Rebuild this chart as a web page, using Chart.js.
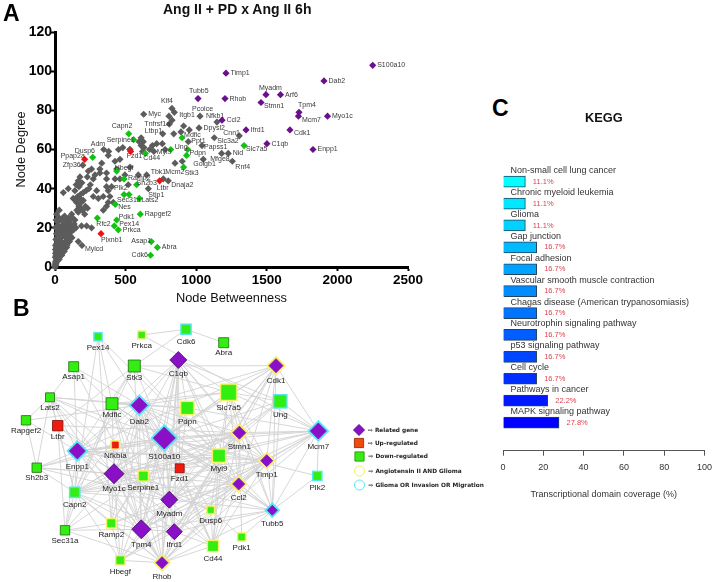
<!DOCTYPE html>
<html>
<head>
<meta charset="utf-8">
<title>Ang II + PD x Ang II 6h</title>
<script src="https://cdn.jsdelivr.net/npm/chart.js@4"></script>
<style>
  html, body { margin: 0; padding: 0; background: #fff; }
  #page { position: relative; width: 715px; height: 582px; overflow: hidden; font-family: "Liberation Sans", Arial, sans-serif; }
  canvas { position: absolute; }
  .letter { position: absolute; font-size: 23px; font-weight: bold; color: #000; line-height: 1; }
  .title { position: absolute; font-size: 14px; font-weight: bold; color: #111; line-height: 1; white-space: nowrap; }
</style>
</head>
<body>
<div id="page">
  <canvas id="scatter" style="left:0;top:0" width="440" height="306"></canvas>
  <canvas id="network" style="left:0;top:306px" width="500" height="276"></canvas>
  <canvas id="kegg" style="left:490px;top:150px" width="228" height="350"></canvas>
  <div class="letter" style="left:3px;top:2px">A</div>
  <div class="letter" style="left:13px;top:297px">B</div>
  <div class="letter" style="left:492px;top:97px">C</div>
  <div class="title" style="left:163px;top:2px">Ang II + PD x Ang II 6h</div>
  <div class="title" style="left:585px;top:112px;font-size:12.8px">KEGG</div>
</div>

<script>
// Panel A - node betweenness vs node degree
const relatedNames = ["S100a10","Dab2","Timp1","Myadm","Arf6","Rhob","Tubb5","Stmn1","Tpm4","Mcm7","Myo1c","Ccl2","Ifrd1","Cdk1","C1qb","Enpp1"];
const relatedX = [2250,1905,1211,1494,1597,1204,1013,1459,1728,1724,1930,1183,1353,1664,1501,1827];
const relatedY = [103,95,99,88,88,86,86,84,79,77,77,75,70,70,63,60];

const downNames = ["Capn2","Serpine1","Mdfic","Myl9","Ung","Pdpn","Slc7a5","Cd44","Dusp6","Stk3","Hbegf","Ramp2","Sh2b3","Plk2","Sec31a","Lats2","Nes","Rapgef2","Pdk1","Pex14","Prkca","Rfc2","Asap1","Abra","Cdk6"];
const downX = [522,557,900,820,940,932,1339,640,267,911,437,489,578,489,524,597,427,604,437,420,448,300,682,725,677];
const downY = [68,65,66,60,60,57,62,58,56,51,49,45,42,37,37,35,32,27,24,21,19,25,13,10,6];

const upNames = ["Fzd1","Ppap2a","Ltbr","Plxnb1"];
const upX = [536,210,741,326];
const upY = [59,55,44,17];

const namedGrayNames = ["Klf4","Itgb1","Myc","Tnfrsf1a","Pcolce","Nfkb1","Dpysl2","Ltbp1","Cnn1","Slc3a2","Papss1","Ppt1","Adm","Zfp36","Mylcd","Tbk1","Mcm2","Dnaja2","Golgb1","Mfge8","Nid","Rnf4","Stip1"];
const namedGrayX = [828,845,628,810,1027,1147,1020,763,1305,1128,1041,944,345,197,191,649,767,802,901,1050,1227,1256,661];
const namedGrayY = [81,79,78,73,77,74,71,68,67,66,62,64,60,52,11,47,45,44,54,55,58,54,40];

const grayX = [807,829,911,951,841,892,610,625,595,610,630,690,720,760,780,700,670,620,530,450,380,
  377,331,425,460,480,531,531,437,318,236,259,283,229,177,165,59,94,141,129,177,153,271,318,365,365,401,365,377,295,271,307,342,389,365,342,377,413,425,460,519,590,495,850,1180,
  11,30,70,118,165,141,94,188,224,259,118,70,23,165,82,47,
  8,18,30,42,55,68,82,96,110,125,5,15,26,38,50,62,76,90,104,118,136,10,22,34,46,58,72,86,100,114,130,148,6,16,28,40,52,64,78,92,106,120,4,12,24,36,48,60,74,88,102,3,10,20,32,44,56,70,84,4,9,18,30,42,54,66,2,7,14,24,36,48,5,11,20,30,3,8,15,2,6,1,170,185,200,215,155,175,195,210,230,145,160,180,200,220,240,250,150,170,190];
const grayY = [77,75,72,70,68,69,66,64,64,62,61,62,63,63,60,59,60,59,60,60,59,
  57,53,54,55,61,60,51,50,50,49,50,47,46,46,44,38,40,39,35,35,33,45,48,48,45,41,41,39,39,36,35,36,36,31,29,33,33,45,45,42,47,47,53,58,
  27,29,25,27,28,24,22,21,21,20,19,17,16,13,10,7,
  24,23,25,24,25,26,24,25,24,25,20,21,21,20,21,22,22,21,22,21,22,17,18,18,18,19,19,18,19,18,19,20,14,15,15,15,16,16,15,16,16,15,11,12,12,13,13,12,13,13,13,9,10,10,10,10,10,11,11,7,8,8,8,8,8,8,5,6,6,6,6,6,3,4,4,4,2,2,3,1,1,0,31,33,34,31,29,30,29,27,30,34,36,37,38,39,40,42,42,41,43];

// Panel B - gene network, node positions come from the layout of the original figure
const nodeNames = ["Pex14","Prkca","Cdk6","Abra","Asap1","Stk3","C1qb","Cdk1","Lats2","Mdfic","Dab2","Slc7a5","Pdpn","Ung","Rapgef2","Ltbr","S100a10","Stmn1","Mcm7","Enpp1","Nfkbia","Myl9","Fzd1","Timp1","Sh2b3","Serpine1","Myo1c","Plk2","Ccl2","Capn2","Myadm","Dusp6","Tubb5","Sec31a","Ramp2","Tpm4","Ifrd1","Pdk1","Cd44","Hbegf","Rhob"];
const nodeX = [98,141.7,186,223.7,73.7,134.3,178.3,276,50,112,139.3,228.7,187.3,280.3,26,57.7,164.3,239.3,318.3,77.3,115.3,219,179.7,266.7,36.7,143.3,114,317.3,238.7,74.7,169.3,210.7,272.3,65,111.3,141.3,174.3,241.7,213,120.3,162];
const nodeY = [336.7,335,329.3,342.7,366.7,366,360,365.7,397.3,403.7,405.3,392.3,408,401.3,420.3,425.7,438,432.7,431,451,445,455.7,468.3,460.7,467.7,476,473.7,476,484,492.3,499.7,510,510.3,530.3,523.3,529.3,531.7,537,546,560.3,562.7];
const nodeKind = ["down","down","down","down","down","down","related","related","down","down","related","down","down","down","down","up","related","related","related","related","up","down","up","related","down","down","related","down","related","down","related","down","related","down","down","related","related","down","down","down","related"];
const nodeRing = ["c","y","c","","","","","y","","","c","y","y","c","","","c","y","c","c","y","y","","y","","y","","c","y","c","","y","c","","y","","","y","y","y","y"];
const nodeSize = [3,2.8,4,5,5,6,8.5,7,4.5,6,8,7,5.5,5.5,4.7,5.2,11,6.5,8,8,3,5.5,4.5,6,4.7,4,10,3.5,6,4,8.5,2.7,5,4.7,3.6,9.5,8,3,4.5,3.5,6];

const edgeLists = {
  S100a10: ["Pex14","Stk3","C1qb","Cdk1","Lats2","Mdfic","Dab2","Slc7a5","Pdpn","Ung","Stmn1","Mcm7","Enpp1","Nfkbia","Myl9","Fzd1","Timp1","Sh2b3","Serpine1","Myo1c","Plk2","Ccl2","Capn2","Myadm","Dusp6","Tubb5","Ramp2","Tpm4","Ifrd1","Cd44","Hbegf","Rhob"],
  Dab2: ["Asap1","C1qb","Cdk1","Lats2","Slc7a5","Stmn1","Enpp1","Myl9","Fzd1","Timp1","Myo1c","Ccl2","Capn2","Myadm","Tubb5","Ramp2","Tpm4","Ifrd1","Cd44","Hbegf","Rhob","Rapgef2"],
  Myo1c: ["Lats2","Ltbr","Mdfic","C1qb","Slc7a5","Stmn1","Mcm7","Myl9","Timp1","Ccl2","Capn2","Sh2b3","Myadm","Tubb5","Sec31a","Tpm4","Ifrd1","Cd44","Hbegf","Rhob","Dusp6"],
  Mcm7: ["Cdk1","Slc7a5","Ung","Stmn1","Timp1","Myl9","Plk2","Tubb5","Ccl2","Myadm","Tpm4","Rhob","Enpp1","Pdpn"],
  C1qb: ["Pdpn","Slc7a5","Stmn1","Enpp1","Myl9","Fzd1","Timp1","Ccl2","Myadm","Tpm4","Ifrd1","Rhob","Serpine1","Ung"],
  Cdk1: ["Stk3","Stmn1","Timp1","Tubb5","Enpp1","Myl9","Tpm4","Ccl2","Myadm","Ifrd1","Capn2"],
  Tpm4: ["Enpp1","Stmn1","Myl9","Timp1","Ccl2","Myadm","Tubb5","Capn2","Ramp2","Ifrd1","Hbegf","Rhob","Sec31a","Mdfic","Pdpn","Nfkbia","Stk3"],
  Myadm: ["Enpp1","Stmn1","Myl9","Timp1","Ccl2","Capn2","Tubb5","Ifrd1","Cd44","Hbegf","Rhob","Ramp2","Sh2b3","Fzd1","Ltbr"],
  Ifrd1: ["Enpp1","Stmn1","Myl9","Timp1","Ccl2","Capn2","Tubb5","Hbegf","Rhob","Dusp6","Cd44"],
  Tubb5: ["Stmn1","Myl9","Timp1","Slc7a5","Ung","Ccl2","Pdk1","Rhob","Plk2","Mdfic"],
  Rhob: ["Stmn1","Myl9","Timp1","Ccl2","Enpp1","Capn2","Ramp2","Hbegf","Cd44","Dusp6","Sec31a","Mdfic","Lats2"],
  Enpp1: ["Asap1","Stmn1","Myl9","Timp1","Ccl2","Stk3","Capn2","Sh2b3","Sec31a","Lats2","Rapgef2"],
  Stmn1: ["Myl9","Timp1","Ccl2","Slc7a5","Ung","Capn2","Ltbr","Serpine1","Cd44","Pdk1"],
  Timp1: ["Myl9","Ccl2","Slc7a5","Pdpn","Capn2","Cd44","Dusp6","Hbegf"],
  Ccl2: ["Myl9","Slc7a5","Capn2","Cd44","Hbegf","Ramp2","Mdfic","Lats2"],
  Slc7a5: ["Mdfic","Stk3","Ung","Myl9","Cd44"],
  Lats2: ["Asap1","Rapgef2","Ltbr","Sh2b3","Capn2","Serpine1","Pdpn"],
  Pex14: ["Capn2","Ramp2","Myl9","Mdfic"],
  Prkca: ["Cdk6","Mcm7"],
  Cdk6: ["Abra","Stk3"],
  Asap1: ["Fzd1","Nfkbia"],
  Stk3: ["Ltbr","Capn2","Mdfic","Myl9"],
  Mdfic: ["Capn2","Sec31a","Pdpn","Serpine1"],
  Capn2: ["Sec31a","Serpine1","Ltbr","Sh2b3","Ramp2","Hbegf"],
  Rapgef2: ["Sh2b3"],
  Sh2b3: ["Nfkbia","Serpine1"],
  Sec31a: ["Serpine1","Ramp2","Ltbr"],
  Ramp2: ["Serpine1","Hbegf","Nfkbia"],
  Myl9: ["Pdpn","Fzd1","Serpine1","Cd44","Dusp6","Ung"],
  Dusp6: ["Cd44","Pdk1","Serpine1"],
  Fzd1: ["Pdpn","Ung","Cd44"]
};

const legendLabels = ["Related gene","Up-regulated","Down-regulated","Angiotensin II AND Glioma","Glioma OR Invasion OR Migration"];

// Panel C - KEGG coverage
const pathways = ["Non-small cell lung cancer","Chronic myeloid leukemia","Glioma","Gap junction","Focal adhesion","Vascular smooth muscle contraction","Chagas disease (American trypanosomiasis)","Neurotrophin signaling pathway","p53 signaling pathway","Cell cycle","Pathways in cancer","MAPK signaling pathway"];
const coverage = [11.1,11.1,11.1,16.7,16.7,16.7,16.7,16.7,16.7,16.7,22.2,27.8];
const pathwayColors = ["#00ffff","#00e8ff","#00d1ff","#00baff","#00a2ff","#008bff","#0074ff","#005dff","#0046ff","#002eff","#0017ff","#0000ff"];

// label offsets from the marker in panel A (default is to the right)
const labelSpots = {
  Klf4:[-11,-7], Itgb1:[5,3], Tnfrsf1a:[-25,0], Pcolce:[-8,-7], Nfkb1:[-11,-6], Ltbp1:[-18,-3], Cnn1:[-16,-3], Slc3a2:[3,3],
  Papss1:[2,1], Ppt1:[3,-1], Adm:[-13,-5], Zfp36:[-20,0], Mylcd:[3,4], Tbk1:[4,-3], Mcm2:[2,-7], Dnaja2:[3,4], Golgb1:[11,3], Mfge8:[7,0],
  Rnf4:[3,6], Stip1:[0,6], Ppap2a:[-24,-3], Dusp6:[-18,-6], Fzd1:[-4,5], Cd44:[-2,5], Myl9:[-14,3], Ung:[-13,-2], Mdfic:[2,-3], Pdpn:[3,-2],
  Capn2:[-17,-8], Serpine1:[-27,0], Stk3:[1,6], Slc7a5:[2,3], Hbegf:[-2,-3], Ltbr:[-3,7], Ramp2:[4,-1], Sh2b3:[0,-2], Plk2:[-10,-6], Sec31a:[-12,6],
  Lats2:[2,2], Nes:[3,3], Pdk1:[2,-3], Pex14:[5,-2], Rfc2:[-1,6], Plxnb1:[0,6], Asap1:[-20,0], Cdk6:[-19,0],
  Tubb5:[-9,-8], Myadm:[-7,-7], Stmn1:[3,4], Tpm4:[-1,-7], Mcm7:[3.5,4], Cdk1:[4,3]
};

const toPoints = (xs, ys) => xs.map((x, i) => ({ x: x, y: ys[i] }));

const panelLabels = {
  id: "panelLabels",
  afterDatasetsDraw(chart) {
    const ctx = chart.ctx;
    ctx.save();
    ctx.font = '7px "Liberation Sans", Arial, sans-serif';
    ctx.fillStyle = "#3a3a3a";
    ctx.textBaseline = "middle";
    chart.data.datasets.forEach((ds) => {
      if (!ds.names) return;
      ds.data.forEach((p, i) => {
        const name = ds.names[i];
        const spot = labelSpots[name] || [4.5, 0];
        ctx.fillText(name, chart.scales.x.getPixelForValue(p.x) + spot[0], chart.scales.y.getPixelForValue(p.y) + spot[1]);
      });
    });
    ctx.restore();
  }
};

function scatterSet(xs, ys, names, color) {
  return { data: toPoints(xs, ys), names: names, backgroundColor: color, borderColor: color, pointStyle: "rectRot", pointRadius: 3.6, pointBorderWidth: 0, clip: false };
}

new Chart(document.getElementById("scatter"), {
  type: "scatter",
  plugins: [panelLabels],
  data: {
    datasets: [
      scatterSet(relatedX, relatedY, relatedNames, "#6a0f8e"),
      scatterSet(downX, downY, downNames, "#12c212"),
      scatterSet(upX, upY, upNames, "#ee1111"),
      scatterSet(namedGrayX, namedGrayY, namedGrayNames, "#5c5c5c"),
      scatterSet(grayX, grayY, null, "#5c5c5c")
    ]
  },
  options: {
    responsive: false,
    animation: false,
    events: [],
    layout: { autoPadding: false, padding: { top: 32, right: 32, left: 0, bottom: 0 } },
    plugins: { legend: { display: false }, tooltip: { enabled: false } },
    scales: {
      x: {
        min: 0, max: 2500,
        afterFit(s) { s.height = 39; },
        border: { color: "#000", width: 3 },
        grid: { drawOnChartArea: false, tickColor: "#000", tickWidth: 2, tickLength: 4 },
        ticks: { stepSize: 500, maxRotation: 0, color: "#000", padding: 1, format: { useGrouping: false }, font: { size: 13.5, weight: "bold", family: '"Liberation Sans", Arial' } },
        title: { display: true, text: "Node Betweenness", color: "#111", padding: { top: 4, bottom: 0 }, font: { size: 12.8, family: '"Liberation Sans", Arial' } }
      },
      y: {
        min: 0, max: 120,
        afterFit(s) { s.width = 55; },
        border: { color: "#000", width: 3 },
        grid: { drawOnChartArea: false, tickColor: "#000", tickWidth: 2, tickLength: 4 },
        ticks: { stepSize: 20, color: "#000", padding: -1, font: { size: 14, weight: "bold", family: '"Liberation Sans", Arial' } },
        title: { display: true, text: "Node Degree", color: "#111", padding: { top: 14, bottom: 0 }, font: { size: 12.8, family: '"Liberation Sans", Arial' } }
      }
    }
  }
});

// Panel B
const edgePoints = [];
Object.keys(edgeLists).forEach((from) => {
  const a = nodeNames.indexOf(from);
  edgeLists[from].forEach((to) => {
    const b = nodeNames.indexOf(to);
    edgePoints.push({ x: nodeX[a], y: nodeY[a] }, { x: nodeX[b], y: nodeY[b] }, { x: NaN, y: NaN });
  });
});

const kindFill = { related: "#8a10c8", up: "#f01a10", down: "#33ee11" };
const ringColor = { y: "#f4f06a", c: "#58e6f2", "": "rgba(0,0,0,0)" };
const styleFor = (i) => (nodeKind[i] === "related" ? "rectRot" : "rect");
// rect in chart.js is drawn with half side = 0.707 r, so scale up to get the same half side
const radiusFor = (i) => (nodeKind[i] === "related" ? nodeSize[i] : nodeSize[i] / Math.SQRT1_2);
const ringPad = (i) => (nodeKind[i] === "related" ? 3 : 2.6);

const networkLabels = {
  id: "networkLabels",
  afterDatasetsDraw(chart) {
    const ctx = chart.ctx;
    const xs = chart.scales.x, ys = chart.scales.y;
    ctx.save();
    ctx.font = '8px "Liberation Sans", Arial, sans-serif';
    ctx.fillStyle = "#222";
    ctx.textAlign = "center";
    ctx.textBaseline = "middle";
    nodeNames.forEach((name, i) => {
      const drop = nodeSize[i] + (nodeRing[i] ? 2.5 : 0) + 5.5;
      ctx.fillText(name, xs.getPixelForValue(nodeX[i]), ys.getPixelForValue(nodeY[i]) + drop);
    });
    ctx.font = 'bold 5.8px "DejaVu Sans", sans-serif';
    ctx.fillStyle = "#222";
    ctx.textAlign = "left";
    legendLabels.forEach((label, i) => {
      const p = chart.data.datasets[3].data[i];
      ctx.fillText("\u21e8 " + label, xs.getPixelForValue(p.x) + 9, ys.getPixelForValue(p.y));
    });
    ctx.restore();
  }
};

new Chart(document.getElementById("network"), {
  type: "scatter",
  plugins: [networkLabels],
  data: {
    datasets: [
      { data: edgePoints, showLine: true, spanGaps: false, borderColor: "#d2d2d2", borderWidth: 0.9, pointRadius: 0, order: 3 },
      {
        data: toPoints(nodeX, nodeY), order: 2, clip: false,
        pointStyle: nodeNames.map((n, i) => styleFor(i)),
        pointRadius: nodeNames.map((n, i) => radiusFor(i) + ringPad(i)),
        backgroundColor: nodeRing.map((r) => ringColor[r]),
        borderWidth: 0
      },
      {
        data: toPoints(nodeX, nodeY), order: 1, clip: false,
        pointStyle: nodeNames.map((n, i) => styleFor(i)),
        pointRadius: nodeNames.map((n, i) => radiusFor(i)),
        backgroundColor: nodeKind.map((k) => kindFill[k]),
        borderColor: nodeRing.map((r, i) => (r ? kindFill[nodeKind[i]] : nodeKind[i] === "related" ? "#3b0a58" : nodeKind[i] === "up" ? "#7a1008" : "#1f6a10")),
        pointBorderWidth: 0.8
      },
      {
        data: [{ x: 359, y: 430 }, { x: 359, y: 443 }, { x: 359.5, y: 456.5 }, { x: 359.5, y: 471 }, { x: 359.5, y: 485 }],
        order: 1, clip: false,
        pointStyle: ["rectRot", "rect", "rect", "circle", "circle"],
        pointRadius: [5.5, 6.5, 6.5, 5, 5],
        backgroundColor: ["#8a10c8", "#f04a10", "#33ee11", "#fff", "#fff"],
        borderColor: ["#5a1090", "#a03a10", "#3a9a20", "#f0ee60", "#58e6f2"],
        pointBorderWidth: 1
      }
    ]
  },
  options: {
    responsive: false,
    animation: false,
    events: [],
    layout: { autoPadding: false, padding: 0 },
    plugins: { legend: { display: false }, tooltip: { enabled: false } },
    scales: {
      x: { display: false, min: 0, max: 500 },
      y: { display: false, min: 306, max: 582, reverse: true }
    }
  }
});

// Panel C
const keggLabels = {
  id: "keggLabels",
  afterDatasetsDraw(chart) {
    const ctx = chart.ctx;
    const xs = chart.scales.x, ys = chart.scales.y;
    ctx.save();
    ctx.textBaseline = "middle";
    pathways.forEach((name, i) => {
      const py = ys.getPixelForValue(i);
      ctx.font = '9px "Liberation Sans", Arial, sans-serif';
      ctx.fillStyle = "#333";
      ctx.fillText(name, xs.getPixelForValue(0) + 7.5, py - 11);
      ctx.font = '7.5px "Liberation Sans", Arial, sans-serif';
      ctx.fillStyle = "#e0404e";
      ctx.fillText(coverage[i].toFixed(1) + "%", xs.getPixelForValue(coverage[i]) + 7.5, py);
    });
    ctx.restore();
  }
};

new Chart(document.getElementById("kegg"), {
  type: "bar",
  plugins: [keggLabels],
  data: {
    datasets: [{
      data: coverage.map((v, i) => ({ x: v, y: i })),
      backgroundColor: pathwayColors,
      borderColor: "#23435f",
      borderWidth: 1,
      barThickness: 11
    }]
  },
  options: {
    indexAxis: "y",
    responsive: false,
    animation: false,
    events: [],
    layout: { autoPadding: false, padding: { top: 20.7, left: 13, right: 7, bottom: 0 } },
    plugins: { legend: { display: false }, tooltip: { enabled: false } },
    scales: {
      y: { type: "linear", display: false, offset: false, reverse: true, min: -0.5, max: 12.285 },
      x: {
        min: 0, max: 100,
        afterFit(s) { s.height = 49.3; },
        border: { color: "#555", width: 1 },
        grid: { drawOnChartArea: false, tickColor: "#555", tickLength: 5 },
        ticks: { stepSize: 20, maxRotation: 0, color: "#333", padding: 6, font: { size: 9, family: '"Liberation Sans", Arial' } },
        title: { display: true, text: "Transcriptional domain coverage (%)", color: "#333", padding: { top: 5, bottom: 0 }, font: { size: 9, family: '"Liberation Sans", Arial' } }
      }
    }
  }
});
</script>
</body>
</html>
